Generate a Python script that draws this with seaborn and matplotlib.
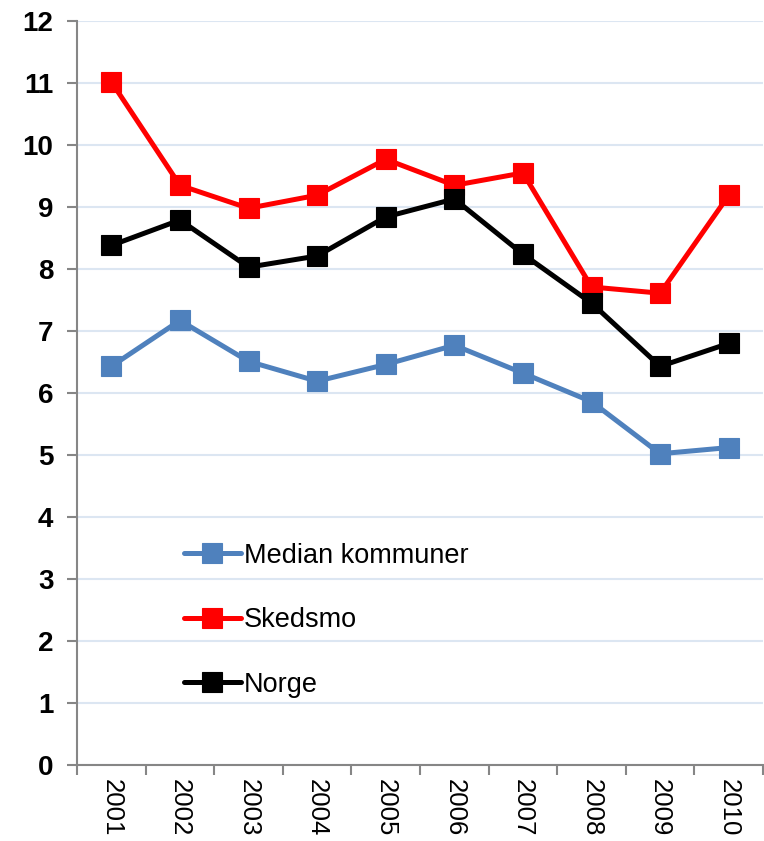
import matplotlib
matplotlib.use("Agg")
import matplotlib.pyplot as plt
import numpy as np
import pandas as pd
import seaborn as sns

years = ["2001", "2002", "2003", "2004", "2005", "2006", "2007", "2008", "2009", "2010"]
median_kommuner = [6.43, 7.17, 6.51, 6.19, 6.46, 6.77, 6.32, 5.86, 5.02, 5.12]
skedsmo = [11.02, 9.35, 8.98, 9.19, 9.77, 9.35, 9.55, 7.71, 7.61, 9.19]
norge = [8.38, 8.79, 8.03, 8.21, 8.84, 9.13, 8.24, 7.45, 6.43, 6.80]

series = [
    ("Median kommuner", median_kommuner, "#4F81BD"),
    ("Skedsmo", skedsmo, "#FF0000"),
    ("Norge", norge, "#000000"),
]

sns.set_theme(style="white")
plt.rcParams["font.family"] = ["Liberation Sans", "DejaVu Sans"]
plt.rcParams["text.color"] = "black"

fig = plt.figure(figsize=(7.64, 8.41), dpi=100)
ax = fig.add_axes([0.1008, 0.0904, 0.898, 0.8846])

x = np.arange(len(years))
for name, vals, color in series:
    df = pd.DataFrame({"x": x, "y": vals})
    sns.lineplot(data=df, x="x", y="y", ax=ax, color=color, lw=3.6,
                 marker="s", markersize=15, markeredgecolor=color,
                 markeredgewidth=0.8, label=name)

ax.set_ylim(0, 12)
ax.set_yticks(range(0, 13))
ax.set_xlim(-0.5, len(years) - 0.5)
ax.set_xticks(np.arange(-0.5, len(years), 1.0))
ax.set_xticklabels([])
ax.set_xticks(x, minor=True)
ax.set_xticklabels(years, minor=True, rotation=-90, fontsize=18.5)
ax.tick_params(axis="x", which="major", length=7, width=1.5, color="#868686", direction="out", bottom=True)
ax.tick_params(axis="x", which="minor", length=0, pad=10, labelcolor="black")
ax.tick_params(axis="y", length=7, width=1.5, color="#868686", direction="out", left=True, pad=10,
               labelcolor="black")
for lbl in ax.get_yticklabels():
    lbl.set_fontsize(20)
    lbl.set_fontweight("bold")

ax.grid(axis="y", color="#DCE6F2", lw=1.5)
ax.set_axisbelow(True)
for side in ["top", "right"]:
    ax.spines[side].set_visible(False)
for side in ["left", "bottom"]:
    ax.spines[side].set_color("#868686")
    ax.spines[side].set_linewidth(1.5)
ax.set_xlabel("")
ax.set_ylabel("")

leg = ax.legend(loc="upper left", bbox_to_anchor=(0.136, 0.317), frameon=False,
                fontsize=19.5, labelspacing=1.42, handlelength=2.1, handletextpad=0.12,
                borderpad=0)
for t in leg.get_texts():
    t.set_color("black")

fig.savefig("out.png", dpi=100)
